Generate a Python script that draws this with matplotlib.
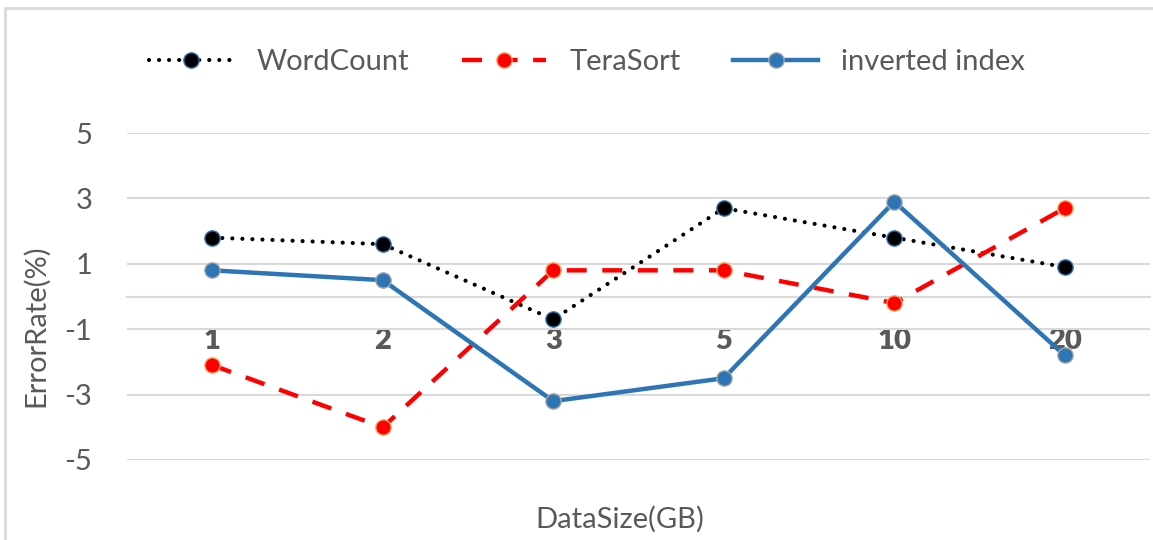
import matplotlib.pyplot as plt
from matplotlib.patches import Rectangle

# values
sizes = ["1", "2", "3", "5", "10", "20"]
wordcount = [1.8, 1.6, -0.7, 2.7, 1.8, 0.9]
terasort = [-2.1, -4.0, 0.8, 0.8, -0.2, 2.7]
inverted = [0.8, 0.5, -3.2, -2.5, 2.9, -1.8]
yticks = [-5, -3, -1, 1, 3, 5]

grey = "#595959"
blue = "#2E75B6"
plt.rcParams["font.family"] = ["Lato", "Open Sans", "DejaVu Sans"]
plt.rcParams["axes.unicode_minus"] = False
fs = 21

fig = plt.figure(figsize=(11.53, 5.4), dpi=100)
ax = fig.add_axes([127 / 1153, 1 - 460 / 540, 1023 / 1153, 327 / 540])

x = range(len(sizes))
ax.plot(x, wordcount, color="black", lw=3, linestyle=(0, (0.01, 2.4)),
        dash_capstyle="round", marker="o", ms=11, mfc="black", mec=blue,
        mew=1, label="WordCount", zorder=3)
ax.plot(x, terasort, color="#FF0000", lw=3.2, linestyle=(0, (4.5, 3.5)),
        marker="o", ms=11, mfc="#FF0000", mec="#F4A460", mew=1,
        label="TeraSort", zorder=3)
ax.plot(x, inverted, color=blue, lw=3.2, marker="o", ms=11, mfc=blue,
        mec="#A6A6A6", mew=1, label="inverted index", zorder=3)

ax.set_xlim(-0.5, len(sizes) - 0.5)
ax.set_ylim(-5, 5)
ax.set_yticks(yticks)
ax.set_xticks(list(x))
ax.set_xticklabels(sizes)
ax.grid(axis="y", color="#D9D9D9", lw=1.5)
ax.set_axisbelow(True)

for s in ["top", "right", "left"]:
    ax.spines[s].set_visible(False)
ax.spines["bottom"].set_position(("data", 0))
ax.spines["bottom"].set_color("#D9D9D9")
ax.spines["bottom"].set_linewidth(1.5)

ax.tick_params(axis="x", length=0, pad=23, labelsize=fs, labelcolor=grey)
ax.tick_params(axis="y", length=0, pad=25, labelsize=fs, labelcolor=grey)
for lbl in ax.get_xticklabels():
    lbl.set_fontweight("heavy")

ax.set_ylabel("ErrorRate(%)", fontsize=fs, color=grey)
ax.yaxis.set_label_coords(-0.076, 0.41)
ax.set_xlabel("DataSize(GB)", fontsize=fs, color=grey)
ax.xaxis.set_label_coords(0.482, -0.14)

fig.legend(loc="center", bbox_to_anchor=(587 / 1153, 1 - 62 / 540), ncol=3,
           frameon=False, fontsize=fs, labelcolor=grey, handlelength=2.9,
           handletextpad=0.8, columnspacing=1.8)

# outer chart border
fig.patches.append(Rectangle((5 / 1153, -0.05), 1.1, 1.05 - 8 / 540,
                             transform=fig.transFigure, fill=False,
                             edgecolor="#D9D9D9", lw=2))

fig.savefig("out.png", dpi=100)
